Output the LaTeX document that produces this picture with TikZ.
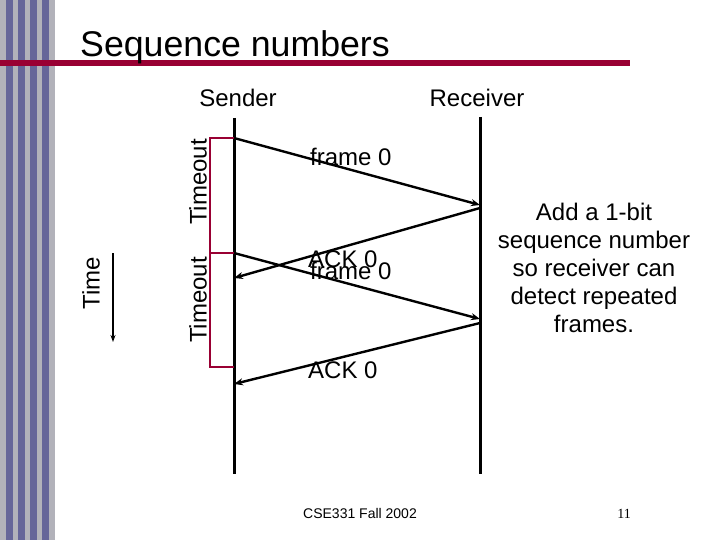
\documentclass[tikz,border=0pt]{standalone}
\usepackage{fontspec}
\setmainfont{Liberation Sans}
\newfontfamily\pagenumfont{Liberation Serif}
\usetikzlibrary{arrows.meta}

\definecolor{stripeblue}{RGB}{102,102,153}
\definecolor{stripegrey}{RGB}{178,178,186}
\definecolor{slidered}{RGB}{153,0,51}

\tikzset{
  lifeline/.style={line width=3pt},
  msg/.style={line width=2.4pt, ->},
  tobracket/.style={slidered, line width=2pt},
  lbl/.style={font=\fontsize{24}{28}\selectfont, inner sep=0pt},
}

\begin{document}
\begin{tikzpicture}[x=1pt, y=-1pt, >={Stealth[length=9pt,width=7pt]}]
    \useasboundingbox (0,0) rectangle (720,540);

    % Strisce a sinistra
    \fill[stripegrey] (0,0) rectangle (55,540);
    \foreach \x in {6,18,30,42}
        \fill[stripeblue] (\x,0) rectangle (\x+7,540);

    % Titolo
    \fill[slidered] (0,60) rectangle (630,66);
    \node[anchor=base west, inner sep=0pt, font=\fontsize{35.7}{40}\selectfont] (title) at (80,57) {Sequence numbers};

    % Mittente e destinatario
    \node[lbl, anchor=base] (sender) at (238,107) {Sender};
    \node[lbl, anchor=base] (receiver) at (477,107) {Receiver};
    \coordinate (sTop) at (234,118);
    \coordinate (sBot) at (234,474);
    \coordinate (rTop) at (480,117);
    \coordinate (rBot) at (480,474);
    \draw[lifeline] (sTop) -- (sBot);
    \draw[lifeline] (rTop) -- (rBot);

    % Punti dei messaggi
    \coordinate (f1s) at (234,138);
    \coordinate (f1r) at (480,205);
    \coordinate (a1r) at (480,208);
    \coordinate (a1s) at (234,278);
    \coordinate (f2s) at (234,253);
    \coordinate (f2r) at (480,319);
    \coordinate (a2r) at (480,323);
    \coordinate (a2s) at (234,384);

    % Timeout
    \coordinate (t1) at (210,138);
    \coordinate (t2) at (210,253);
    \coordinate (t3) at (210,367);
    \coordinate (t3s) at (234,367);
    \draw[tobracket] (f1s) -- (t1) -- (t2) -- (f2s);
    \draw[tobracket] (t2) -- (t3) -- (t3s);
    \node[lbl, rotate=90] (to1) at (198,182) {Timeout};
    \node[lbl, rotate=90] (to2) at (198,300) {Timeout};

    % Messaggi
    \draw[msg] (f1s) -- (f1r);
    \draw[msg] (a1r) -- (a1s);
    \draw[msg] (f2s) -- (f2r);
    \draw[msg] (a2r) -- (a2s);
    \node[lbl, anchor=base west] (frame1) at (310,166) {frame 0};
    \node[lbl, anchor=base west] (ack1) at (308,267) {ACK 0};
    \node[lbl, anchor=base west] (frame2) at (310,279) {frame 0};
    \node[lbl, anchor=base west] (ack2) at (308,378) {ACK 0};

    % Tempo
    \node[lbl, rotate=90] (time) at (91,283) {Time};
    \coordinate (timeTop) at (113,253);
    \coordinate (timeBot) at (113,342);
    \draw[line width=1.5pt, -{Stealth[length=7pt,width=5pt]}] (timeTop) -- (timeBot);

    % Nota
    \node[lbl, align=center] (note) at (594,268) {Add a 1-bit\\sequence number\\so receiver can\\detect repeated\\frames.};

    % Pie di pagina
    \node[anchor=base, inner sep=0pt, font=\fontsize{14}{16}\selectfont] (footer) at (360,518) {CSE331 Fall 2002};
    \node[anchor=base, inner sep=0pt, font=\pagenumfont\fontsize{14}{16}\selectfont] (pagenum) at (624,518) {11};
\end{tikzpicture}
\end{document}
